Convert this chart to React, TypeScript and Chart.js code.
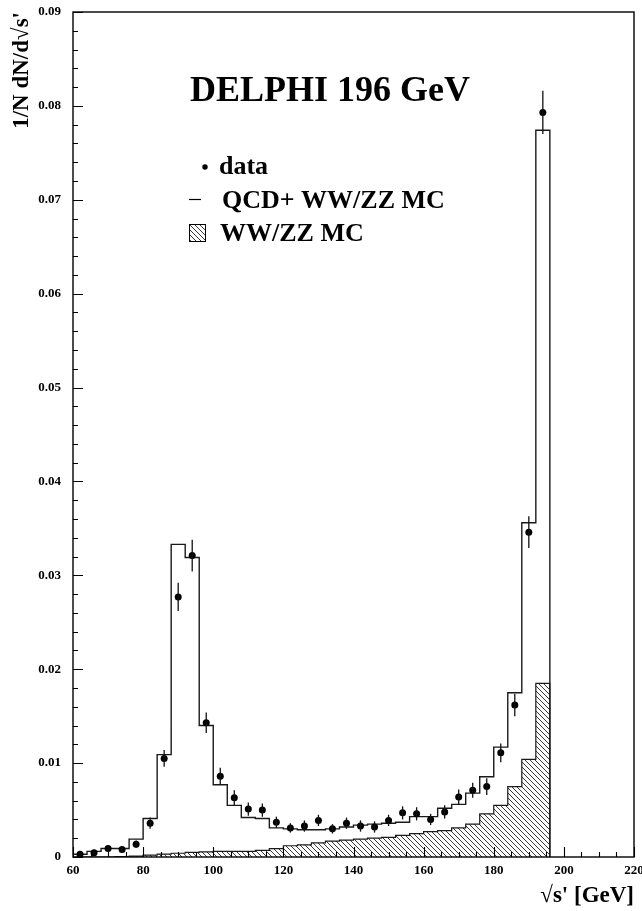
import React, { useEffect, useRef } from "react";
import { Chart, registerables } from "chart.js";

Chart.register(...registerables);

// Histogram bin edges (GeV), 4 GeV bins from 60 to 196
const binEdges = [
  60, 64, 68, 72, 76, 80, 84, 88, 92, 96, 100, 104, 108, 112, 116, 120, 124, 128,
  132, 136, 140, 144, 148, 152, 156, 160, 164, 168, 172, 176, 180, 184, 188, 192, 196,
];

// Data points at bin centres
const dataX = [
  62, 66, 70, 74, 78, 82, 86, 90, 94, 98, 102, 106, 110, 114, 118, 122, 126, 130,
  134, 138, 142, 146, 150, 154, 158, 162, 166, 170, 174, 178, 182, 186, 190, 194,
];
const dataY = [
  0.0003, 0.00046, 0.0009, 0.0008, 0.00135, 0.0036, 0.0105, 0.0277, 0.0321, 0.0143,
  0.0086, 0.0063, 0.0051, 0.005, 0.0037, 0.0031, 0.0033, 0.0039, 0.003, 0.0036,
  0.0033, 0.0032, 0.0039, 0.0047, 0.0046, 0.004, 0.0048, 0.0064, 0.0071, 0.0075,
  0.0111, 0.0162, 0.0346, 0.0793,
];
const dataErr = [
  0.0002, 0.0002, 0.0003, 0.0003, 0.0004, 0.0006, 0.0009, 0.0015, 0.0017, 0.0011,
  0.0009, 0.0008, 0.0007, 0.0007, 0.0006, 0.0005, 0.0006, 0.0006, 0.0005, 0.0006,
  0.0006, 0.0006, 0.0006, 0.0007, 0.0007, 0.0006, 0.0007, 0.0008, 0.0008, 0.0009,
  0.001, 0.0012, 0.0017, 0.0023,
];

// QCD + WW/ZZ MC per bin
const totalMC = [
  0.0003, 0.0006, 0.0009, 0.0009, 0.0019, 0.0041, 0.0109, 0.0333, 0.0319, 0.014,
  0.0077, 0.0055, 0.0042, 0.0041, 0.0031, 0.003, 0.0029, 0.0029, 0.003, 0.0032,
  0.0034, 0.0035, 0.0036, 0.0037, 0.0043, 0.0043, 0.0052, 0.0056, 0.0068, 0.00855,
  0.0117, 0.0175, 0.0356, 0.0774,
];

// WW/ZZ MC per bin
const wwzzMC = [
  0, 0, 0, 0.00005, 0.0001, 0.0002, 0.0003, 0.0004, 0.0005, 0.00055,
  0.0006, 0.0006, 0.0006, 0.0007, 0.0009, 0.0012, 0.0013, 0.0015, 0.0017, 0.0018,
  0.0019, 0.002, 0.0021, 0.0023, 0.0025, 0.0027, 0.0028, 0.0031, 0.0035, 0.0046,
  0.0055, 0.0075, 0.0104, 0.0185,
];

const xMajorTicks = [60, 80, 100, 120, 140, 160, 180, 200, 220];
const xMinorStep = 5;
const yMinorStep = 0.002;

const SERIF = "'Liberation Serif', 'Times New Roman', serif";

function stepPoints(values: number[]) {
  const pts: { x: number; y: number }[] = [{ x: binEdges[0], y: 0 }];
  values.forEach((v, i) => pts.push({ x: binEdges[i], y: v }));
  const last = binEdges[binEdges.length - 1];
  pts.push({ x: last, y: values[values.length - 1] });
  pts.push({ x: last, y: 0 });
  return pts;
}

function makeHatch(): CanvasPattern | string {
  const s = 5;
  const c = document.createElement("canvas");
  c.width = s;
  c.height = s;
  const g = c.getContext("2d");
  if (!g) return "#999";
  g.strokeStyle = "#222";
  g.lineWidth = 0.9;
  g.beginPath();
  g.moveTo(0, 0);
  g.lineTo(s, s);
  g.moveTo(-1, s - 1);
  g.lineTo(1, s + 1);
  g.moveTo(s - 1, -1);
  g.lineTo(s + 1, 1);
  g.stroke();
  const p = g.createPattern(c, "repeat");
  return p || "#999";
}

export default function App() {
  const ref = useRef<HTMLCanvasElement | null>(null);

  useEffect(() => {
    const canvas = ref.current;
    if (!canvas) return;
    const hatch = makeHatch();

    const decor = {
      id: "decor",
      afterDatasetsDraw(chart: any) {
        const ctx = chart.ctx;
        const xs = chart.scales.x;
        const ys = chart.scales.y;
        ctx.save();
        ctx.strokeStyle = "#111";
        ctx.lineWidth = 1.3;
        dataX.forEach((x, i) => {
          const px = xs.getPixelForValue(x);
          ctx.beginPath();
          ctx.moveTo(px, ys.getPixelForValue(dataY[i] - dataErr[i]));
          ctx.lineTo(px, ys.getPixelForValue(dataY[i] + dataErr[i]));
          ctx.stroke();
        });
        ctx.restore();
      },
      afterDraw(chart: any) {
        const ctx = chart.ctx;
        const xs = chart.scales.x;
        const ys = chart.scales.y;
        const a = chart.chartArea;
        ctx.save();
        // frame
        ctx.strokeStyle = "#000";
        ctx.lineWidth = 1.4;
        ctx.strokeRect(a.left, a.top, a.right - a.left, a.bottom - a.top);
        // x ticks (inward)
        ctx.lineWidth = 1.1;
        ctx.beginPath();
        for (let v = xs.min; v <= xs.max + 1e-9; v += xMinorStep) {
          const px = Math.round(xs.getPixelForValue(v)) + 0.5;
          const major = xMajorTicks.includes(Math.round(v));
          ctx.moveTo(px, a.bottom);
          ctx.lineTo(px, a.bottom - (major ? 10 : 5));
        }
        // y ticks (inward)
        const n = Math.round((ys.max - ys.min) / yMinorStep);
        for (let k = 0; k <= n; k++) {
          const py = Math.round(ys.getPixelForValue(k * yMinorStep)) + 0.5;
          const major = k % 5 === 0;
          ctx.moveTo(a.left, py);
          ctx.lineTo(a.left + (major ? 10 : 5), py);
        }
        ctx.stroke();

        // title
        ctx.fillStyle = "#000";
        ctx.textBaseline = "alphabetic";
        ctx.textAlign = "left";
        ctx.font = `bold 36px ${SERIF}`;
        ctx.fillText("DELPHI 196 GeV", 190, 101);

        // legend
        ctx.font = `bold 26px ${SERIF}`;
        ctx.beginPath();
        ctx.arc(205, 167, 2.7, 0, Math.PI * 2);
        ctx.fill();
        ctx.fillText("data", 219, 174);

        ctx.lineWidth = 1.2;
        ctx.beginPath();
        ctx.moveTo(189, 199.5);
        ctx.lineTo(201, 199.5);
        ctx.stroke();
        ctx.fillText("QCD+ WW/ZZ MC", 222, 208);

        ctx.fillStyle = hatch as any;
        ctx.fillRect(189.5, 224.5, 16, 17);
        ctx.strokeStyle = "#000";
        ctx.lineWidth = 1;
        ctx.strokeRect(189.5, 224.5, 16, 17);
        ctx.fillStyle = "#000";
        ctx.fillText("WW/ZZ MC", 220, 241);
        ctx.restore();
      },
    };

    const chart = new Chart(canvas, {
      type: "line",
      data: {
        datasets: [
          {
            type: "scatter",
            label: "data",
            data: dataX.map((x, i) => ({ x, y: dataY[i] })),
            pointRadius: 3.5,
            pointHoverRadius: 3.5,
            pointBackgroundColor: "#000",
            pointBorderWidth: 0,
            showLine: false,
            order: 0,
          } as any,
          {
            label: "QCD+ WW/ZZ MC",
            data: stepPoints(totalMC),
            stepped: "before",
            borderColor: "#1a1a1a",
            borderWidth: 1.4,
            pointRadius: 0,
            fill: false,
            order: 1,
          },
          {
            label: "WW/ZZ MC",
            data: stepPoints(wwzzMC),
            stepped: "before",
            borderColor: "#1a1a1a",
            borderWidth: 1.2,
            pointRadius: 0,
            fill: "origin",
            backgroundColor: hatch as any,
            order: 2,
          },
        ],
      },
      options: {
        responsive: false,
        animation: false,
        events: [],
        layout: { padding: { left: 0, right: 8, top: 12, bottom: 0 } },
        plugins: {
          legend: { display: false },
          tooltip: { enabled: false },
        },
        scales: {
          x: {
            type: "linear",
            min: 60,
            max: 220,
            grid: { display: false, drawTicks: false },
            border: { display: false },
            ticks: {
              stepSize: 20,
              autoSkip: false,
              maxRotation: 0,
              padding: 6,
              color: "#000",
              font: { family: SERIF, size: 13, weight: "bold" },
            },
            title: {
              display: true,
              text: "√s' [GeV]",
              align: "end",
              color: "#000",
              font: { family: SERIF, size: 23, weight: "bold" },
              padding: { top: 0, bottom: 1 },
            },
            afterFit(s: any) {
              s.height = 54;
              s.paddingLeft = 0;
              s.paddingRight = 0;
            },
          },
          y: {
            type: "linear",
            min: 0,
            max: 0.09,
            grid: { display: false, drawTicks: false },
            border: { display: false },
            ticks: {
              stepSize: 0.01,
              padding: 12,
              color: "#000",
              font: { family: SERIF, size: 13, weight: "bold" },
              callback: (v: any) => (Number(v) === 0 ? "0" : Number(v).toFixed(2)),
            },
            title: {
              display: true,
              text: "1/N dN/d√s'",
              align: "end",
              color: "#000",
              font: { family: SERIF, size: 23, weight: "bold" },
              padding: { top: 8, bottom: 0 },
            },
            afterFit(s: any) {
              s.width = 73;
              s.paddingTop = 0;
              s.paddingBottom = 0;
            },
          },
        },
      },
      plugins: [decor],
    });

    return () => chart.destroy();
  }, []);

  return (
    <div style={{ position: "fixed", left: 0, top: 0, width: 642, height: 911, background: "#fff" }}>
      <canvas ref={ref} width={642} height={911} style={{ display: "block" }} />
    </div>
  );
}
